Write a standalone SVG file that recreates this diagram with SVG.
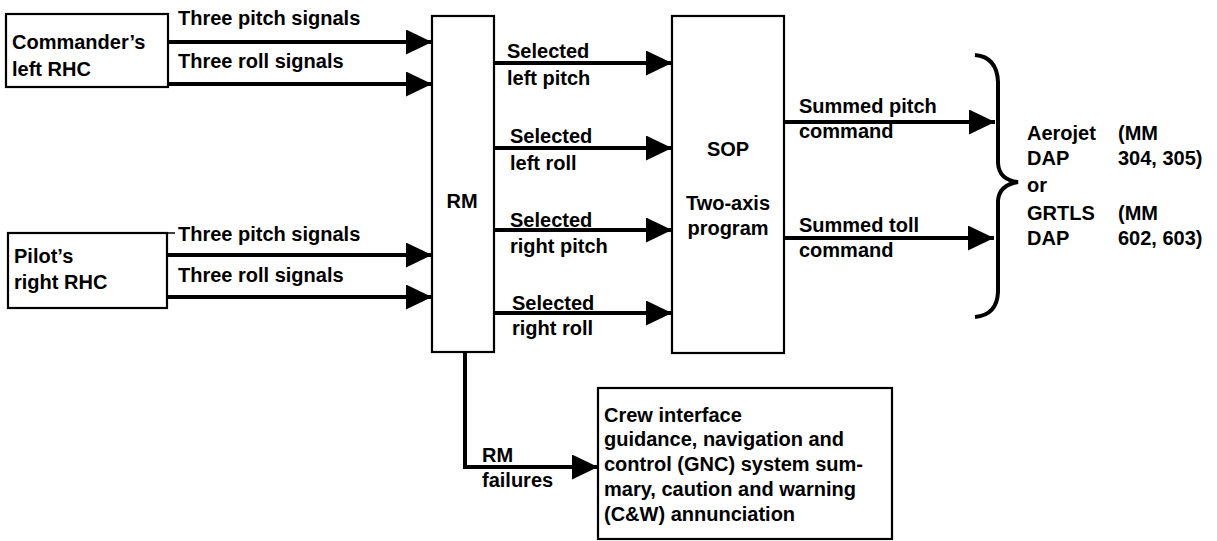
<svg xmlns="http://www.w3.org/2000/svg" width="1217" height="541" viewBox="0 0 1217 541">
<style>
  text { font-family: "Liberation Sans", Arial, sans-serif; font-weight: bold; font-size: 20px; fill: #000; }
  .box { fill: #fff; stroke: #000; stroke-width: 2.2; }
  .conn { fill: none; stroke: #000; stroke-width: 4; }
  .mid { text-anchor: middle; }
</style>
<defs>
  <marker id="ah" markerUnits="userSpaceOnUse" markerWidth="27" markerHeight="26" refX="26" refY="12.5" orient="auto">
    <path d="M0,0 L26,12.5 L0,25 z" fill="#000"/>
  </marker>
</defs>
<rect width="1217" height="541" fill="#fff"/>

<g id="commander">
  <rect class="box" x="6" y="14" width="162" height="73"/>
  <text x="12" y="49">Commander’s</text>
  <text x="12" y="76">left RHC</text>
</g>
<g id="pilot">
  <rect class="box" x="8" y="233" width="159" height="75"/>
  <line x1="167" y1="233" x2="175" y2="233" stroke="#000" stroke-width="1.5"/>
  <text x="14" y="263">Pilot’s</text>
  <text x="14" y="289">right RHC</text>
</g>
<g id="rm">
  <rect class="box" x="432" y="16" width="62" height="336"/>
  <text class="mid" x="462" y="208">RM</text>
</g>
<g id="sop">
  <rect class="box" x="672" y="16" width="112" height="337"/>
  <text class="mid" x="728" y="156">SOP</text>
  <text class="mid" x="728" y="210">Two-axis</text>
  <text class="mid" x="728" y="235">program</text>
</g>
<g id="crew">
  <rect class="box" x="598" y="388" width="294" height="151"/>
  <text x="604" y="422">Crew interface</text>
  <text x="604" y="446">guidance, navigation and</text>
  <text x="604" y="471">control (GNC) system sum-</text>
  <text x="604" y="496">mary, caution and warning</text>
  <text x="604" y="521">(C&amp;W) annunciation</text>
</g>
<g id="dap">
  <path class="conn" d="M975,55 Q997,57 998,82 L998,163 Q999,180 1018,182 Q999,185 998,201 L998,292 Q997,315 975,317"/>
  <text x="1027" y="140">Aerojet</text>
  <text x="1027" y="165">DAP</text>
  <text x="1027" y="192">or</text>
  <text x="1027" y="220">GRTLS</text>
  <text x="1027" y="245">DAP</text>
  <text x="1118" y="140">(MM</text>
  <text x="1118" y="165">304, 305)</text>
  <text x="1118" y="220">(MM</text>
  <text x="1118" y="245">602, 603)</text>
</g>

<g id="connectors">
  <line class="conn" x1="168" y1="42" x2="432" y2="42" marker-end="url(#ah)"/>
  <line class="conn" x1="168" y1="84" x2="432" y2="84" marker-end="url(#ah)"/>
  <line class="conn" x1="167" y1="255" x2="432" y2="255" marker-end="url(#ah)"/>
  <line class="conn" x1="167" y1="297" x2="432" y2="297" marker-end="url(#ah)"/>
  <line class="conn" x1="494" y1="63" x2="672" y2="63" marker-end="url(#ah)"/>
  <line class="conn" x1="494" y1="148" x2="672" y2="148" marker-end="url(#ah)"/>
  <line class="conn" x1="494" y1="230" x2="672" y2="230" marker-end="url(#ah)"/>
  <line class="conn" x1="494" y1="313" x2="672" y2="313" marker-end="url(#ah)"/>
  <line class="conn" x1="784" y1="122" x2="995" y2="122" marker-end="url(#ah)"/>
  <line class="conn" x1="784" y1="238" x2="994" y2="238" marker-end="url(#ah)"/>
  <path class="conn" d="M465,352 L465,467 L598,467" marker-end="url(#ah)"/>

  <text x="178" y="25">Three pitch signals</text>
  <text x="178" y="68">Three roll signals</text>
  <text x="178" y="241">Three pitch signals</text>
  <text x="178" y="282">Three roll signals</text>
  <text x="507" y="58">Selected</text>
  <text x="507" y="85">left pitch</text>
  <text x="510" y="143">Selected</text>
  <text x="510" y="170">left roll</text>
  <text x="510" y="227">Selected</text>
  <text x="510" y="253">right pitch</text>
  <text x="512" y="310">Selected</text>
  <text x="512" y="335">right roll</text>
  <text x="799" y="113">Summed pitch</text>
  <text x="799" y="138">command</text>
  <text x="799" y="232">Summed toll</text>
  <text x="799" y="257">command</text>
  <text x="482" y="462">RM</text>
  <text x="482" y="487">failures</text>
</g>
</svg>
